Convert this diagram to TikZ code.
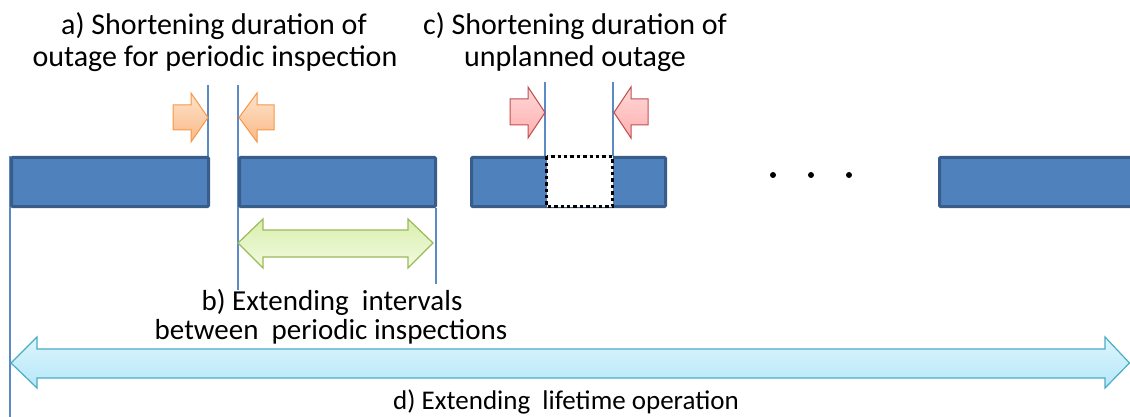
\documentclass[tikz,border=0pt]{standalone}
\usepackage{fontspec}
\setmainfont{Carlito}
\begin{document}
\begin{tikzpicture}[x=1pt,y=-1pt,
  bar/.style={draw=barborder,fill=barfill,line width=3pt,rounded corners=1pt},
  guide/.style={draw=guideblue,line width=1.1pt},
  lbl/.style={align=center,anchor=base,inner sep=0pt,text=black},
  big/.style={lbl,font=\fontsize{30}{32}\selectfont},
  mid/.style={lbl,font=\fontsize{29}{32}\selectfont},
  small/.style={lbl,font=\fontsize{27}{32}\selectfont},
  orangearrow/.style={draw=orbord,line width=1pt,top color=ortop,bottom color=orbot,line join=miter},
  redarrow/.style={draw=redbord,line width=1pt,top color=redtop,bottom color=redbot,line join=miter},
  greenarrow/.style={draw=grbord,line width=1.2pt,top color=grtop,bottom color=grbot,line join=miter},
  bluearrow/.style={draw=blbord,line width=1.2pt,top color=bltop,bottom color=blbot,line join=miter},
  dotbox/.style={draw=black,fill=white,line width=3.6pt,dash pattern=on 3.4pt off 3pt},
  dot/.style={circle,fill=black,inner sep=0pt,minimum size=6pt}
]
\definecolor{barfill}{HTML}{4F81BD}
\definecolor{barborder}{HTML}{385D8A}
\definecolor{guideblue}{HTML}{5B8AC6}
\definecolor{orbord}{HTML}{F79646}
\definecolor{ortop}{HTML}{FDE3CC}
\definecolor{orbot}{HTML}{FAB985}
\definecolor{redbord}{HTML}{C0504D}
\definecolor{redtop}{HTML}{FFD8D8}
\definecolor{redbot}{HTML}{FFAFAF}
\definecolor{grbord}{HTML}{9BBB59}
\definecolor{grtop}{HTML}{D9EFAE}
\definecolor{grbot}{HTML}{F2FADF}
\definecolor{blbord}{HTML}{4BACC6}
\definecolor{bltop}{HTML}{DDF5FD}
\definecolor{blbot}{HTML}{B5E7F8}

\useasboundingbox (0,0) rectangle (1130,417);

% vertical guide lines
\draw[guide] (10,156) -- (10,417);
\draw[guide] (208,85) -- (208,160);
\draw[guide] (238,85) -- (238,290);
\draw[guide] (436,208) -- (436,284);
\draw[guide] (545,82) -- (545,156);
\draw[guide] (613,82) -- (613,156);

% bars
\draw[bar] (11.5,157.5) rectangle (208.5,206.5);
\draw[bar] (239.5,157.5) rectangle (435.5,206.5);
\draw[bar] (471.5,157.5) rectangle (665.5,206.5);
\draw[bar] (939.5,157.5) rectangle (1135,206.5);

% unplanned outage gap
\draw[dotbox] (546.5,156.5) rectangle (612.5,206.5);

% dots
\node[dot] (d1) at (773,175) {};
\node[dot] (d2) at (811,175) {};
\node[dot] (d3) at (849,175) {};

% orange arrows
\draw[orangearrow] (173,105) -- (191,105) -- (191,93) -- (208,117.5) -- (191,142) -- (191,130) -- (173,130) -- cycle;
\draw[orangearrow] (274,105) -- (257,105) -- (257,93) -- (239,117.5) -- (257,142) -- (257,130) -- (274,130) -- cycle;

% red arrows
\draw[redarrow] (510,99) -- (528,99) -- (528,87) -- (545,112.5) -- (528,138) -- (528,125) -- (510,125) -- cycle;
\draw[redarrow] (648,99) -- (631,99) -- (631,87) -- (614,112.5) -- (631,138) -- (631,125) -- (648,125) -- cycle;

% green double arrow
\draw[greenarrow] (238,243) -- (263,219) -- (263,230) -- (408,230) -- (408,219) -- (433,243) -- (408,268) -- (408,257) -- (263,257) -- (263,268) -- cycle;

% blue double arrow
\draw[bluearrow] (11,363) -- (37,337) -- (37,349) -- (1105,349) -- (1105,337) -- (1129.5,363) -- (1105,388) -- (1105,378) -- (37,378) -- (37,388) -- cycle;

% labels
\node[big] (la1) at (214,35) {a) Shortening duration of};
\node[big] (la2) at (215,67) {outage for periodic inspection};
\node[big] (lc1) at (575,35) {c) Shortening duration of};
\node[big] (lc2) at (575,67) {unplanned outage};
\node[mid] (lb1) at (332,310) {b) Extending\ \ intervals};
\node[mid] (lb2) at (331,339) {between\ \ periodic inspections};
\node[small] (ld) at (566,409) {d) Extending\ \ lifetime operation};
\end{tikzpicture}
\end{document}
